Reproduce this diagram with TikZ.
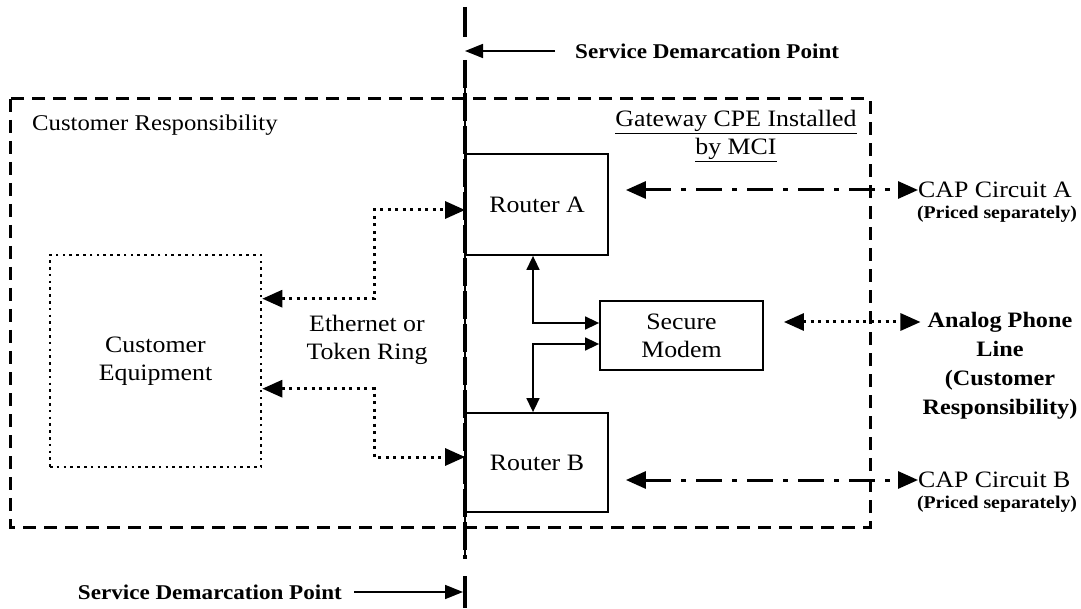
\documentclass[tikz,border=0pt]{standalone}
\usepackage{fontspec}
\setmainfont{Liberation Serif}
\newfontfamily\widefont[FakeStretch=1.1]{Liberation Serif}
\usetikzlibrary{arrows.meta,calc}
\tikzset{
  lbl/.style={font=\widefont\fontsize{23.5}{28}\selectfont, inner sep=0pt, align=center},
  resplbl/.style={font=\widefont\fontsize{22.5}{27}\selectfont, inner sep=0pt},
  blbl/.style={font=\widefont\fontsize{22}{29}\selectfont\bfseries, inner sep=0pt, align=center},
  sdplbl/.style={font=\widefont\fontsize{21}{26}\selectfont\bfseries, inner sep=0pt},
  smlbl/.style={font=\widefont\fontsize{18}{22}\selectfont\bfseries, inner sep=0pt},
  devbox/.style={draw, line width=1.8pt, lbl},
  cebox/.style={draw, line width=2.6pt, dash pattern=on 2.6pt off 4.2pt, lbl},
  regionbox/.style={line width=3pt, dash pattern=on 13pt off 8pt},
  demarc/.style={line width=4.5pt, dash pattern=on 28pt off 5pt},
  demarcthin/.style={line width=1.5pt},
  bigtips/.style={arrows={Triangle[length=20pt,width=17pt]}-{Triangle[length=20pt,width=17pt]}},
  smalltips/.style={arrows={Triangle[length=14pt,width=13pt]}-{Triangle[length=14pt,width=13pt]}},
  dotconn/.style={bigtips, line width=3pt, dash pattern=on 3pt off 4.5pt},
  dashdotconn/.style={bigtips, line width=3pt, dash pattern=on 26pt off 10pt on 5pt off 10pt},
  solconn/.style={smalltips, line width=1.6pt},
  pointer/.style={line width=1.6pt, -{Triangle[length=18pt,width=14pt]}}
}
\begin{document}
\begin{tikzpicture}[x=1pt,y=-1pt]
\useasboundingbox (0,0) rectangle (1081,609);

% region (dashed) box
\draw[regionbox] (10,99) rectangle (870,527);

% demarcation line
\coordinate (dtop) at (465,7);
\coordinate (dgapA) at (465,37);
\coordinate (dgapB) at (465,60);
\coordinate (dgapC) at (465,559);
\coordinate (dgapD) at (465,576);
\coordinate (dbot) at (465,608);
\draw[demarcthin] (dgapB) -- (dgapC);
\draw[line width=4.5pt] (dtop) -- (dgapA);
\draw[demarc] (dgapB) -- (dgapC);
\draw[line width=4.5pt] (dgapD) -- (dbot);

% devices
\node[devbox, minimum width=142pt, minimum height=101pt] (ra) at (537,204.5) {Router A};
\node[devbox, minimum width=142pt, minimum height=99pt] (rb) at (537,462.5) {Router B};
\node[devbox, minimum width=163pt, minimum height=69pt] (modem) at (681.5,335.5) {Secure\\Modem};
\node[cebox, minimum width=211pt, minimum height=212pt] (ce) at (155.5,361) {Customer\\Equipment};

% labels
\node[sdplbl, anchor=west] (sdptop) at (575,51) {Service Demarcation Point};
\node[sdplbl, anchor=east] (sdpbot) at (342,592) {Service Demarcation Point};
\node[resplbl, anchor=west] (custresp) at (32,125) {Customer Responsibility};
\node[lbl] (gw) at (736,136) {\underline{Gateway CPE Installed}\\\underline{by MCI}};
\node[lbl] (eth) at (367,340) {Ethernet or\\Token Ring};
\node[lbl, anchor=west] (capA) at (918,190) {CAP Circuit A};
\node[smlbl] (capAp) at (997,214) {(Priced separately)};
\node[lbl, anchor=west] (capB) at (918,480) {CAP Circuit B};
\node[smlbl] (capBp) at (997,504) {(Priced separately)};
\node[blbl] (analog) at (1000,366) {Analog Phone\\Line\\(Customer\\Responsibility)};

% demarcation pointers
\draw[pointer] ([xshift=-20pt]sdptop.west) -- (dgapA |- sdptop.west);
\draw[pointer] ([xshift=12pt]sdpbot.east) -- ([xshift=-2pt]dgapD |- sdpbot.east);

% ethernet links
\draw[dotconn] ([yshift=-45pt]ce.north east) -| ([xshift=-91pt,yshift=-5.5pt]ra.west) -- ([yshift=-5.5pt]ra.west);
\draw[dotconn] ([yshift=-135pt]ce.north east) -| ([xshift=-91pt,yshift=5.5pt]rb.west) -- ([yshift=5.5pt]rb.west);

% router - modem links
\draw[solconn] ([xshift=-4pt]ra.south) |- ([yshift=12.5pt]modem.west);
\draw[solconn] ([yshift=-8.5pt]modem.west) -| ([xshift=-4pt]rb.north);

% external circuits
\draw[dashdotconn] ([xshift=17pt,yshift=14.5pt]ra.east) -- (capA.west);
\draw[dashdotconn] ([xshift=17pt,yshift=-17.5pt]rb.east) -- (capB.west);
\coordinate (anaIn) at ([xshift=20pt,yshift=13.5pt]modem.east);
\draw[dotconn] (anaIn) -- ([xshift=-2pt]anaIn -| analog.west);
\end{tikzpicture}
\end{document}
